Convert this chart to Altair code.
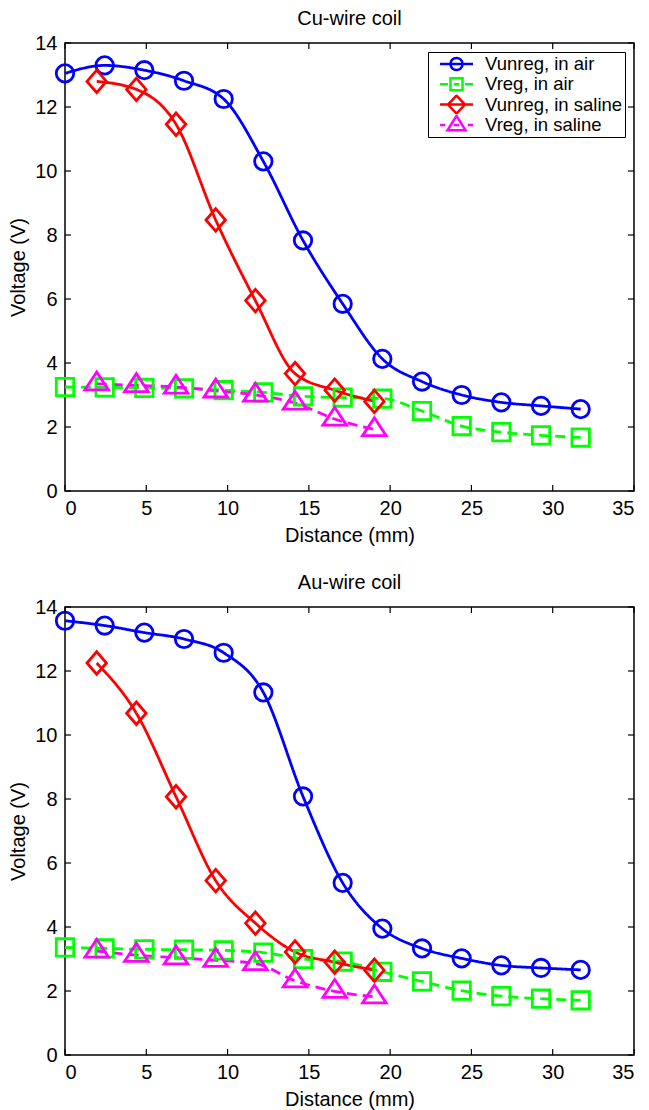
import altair as alt
import pandas as pd

# ---------------- data ----------------
series_names = ["Vunreg, in air", "Vreg, in air", "Vunreg, in saline", "Vreg, in saline"]

air_x = [0, 2.44, 4.88, 7.32, 9.76, 12.2, 14.64, 17.08, 19.52, 21.96, 24.4, 26.84, 29.28, 31.72]
saline_x = [1.95, 4.39, 6.83, 9.27, 11.71, 14.15, 16.59, 19.03]

cu_vunreg_air = [13.05, 13.3, 13.15, 12.82, 12.25, 10.3, 7.83, 5.85, 4.13, 3.42, 3.0, 2.77, 2.66, 2.56]
cu_vreg_air = [3.25, 3.24, 3.22, 3.21, 3.15, 3.08, 2.96, 2.92, 2.89, 2.5, 2.03, 1.84, 1.74, 1.67]
cu_vunreg_saline = [12.8, 12.55, 11.46, 8.47, 5.95, 3.67, 3.15, 2.8]
cu_vreg_saline = [3.35, 3.3, 3.25, 3.13, 3.0, 2.75, 2.25, 1.92]

au_vunreg_air = [13.57, 13.42, 13.2, 13.0, 12.57, 11.33, 8.08, 5.38, 3.95, 3.33, 3.02, 2.8, 2.72, 2.66]
au_vreg_air = [3.36, 3.33, 3.3, 3.29, 3.27, 3.2, 3.0, 2.92, 2.6, 2.3, 2.01, 1.84, 1.76, 1.71]
au_vunreg_saline = [12.25, 10.68, 8.07, 5.45, 4.12, 3.22, 2.9, 2.65]
au_vreg_saline = [3.25, 3.12, 3.04, 2.96, 2.86, 2.32, 1.99, 1.82]

x_ticks = [0, 5, 10, 15, 20, 25, 30, 35]
y_ticks = [0, 2, 4, 6, 8, 10, 12, 14]

# ---------------- styling ----------------
FONT = "Liberation Sans"
colors = ["#0000ff", "#00ff00", "#ff0000", "#ff00ff"]
dashes = [[1, 0], [10, 6], [1, 0], [10, 6]]
marker_paths = [
    "M0.85,0A0.85,0.85 0 1,1 -0.85,0A0.85,0.85 0 1,1 0.85,0Z",
    "M-0.85,-0.85H0.85V0.85H-0.85Z",
    "M0,-1.1L0.95,0L0,1.1L-0.95,0Z",
    "M0,-1.15L1.15,0.6H-1.15Z",
]
legend_paths = [
    "M-1.83,0H1.83M0.67,0A0.67,0.67 0 1,1 -0.67,0A0.67,0.67 0 1,1 0.67,0Z",
    "M-1.83,0H-0.95M-0.3,0H0.3M0.95,0H1.83M-0.67,-0.67H0.67V0.67H-0.67Z",
    "M-1.83,0H1.83M0,-1L0.94,0L0,1L-0.94,0Z",
    "M-1.83,0H-1.25M-0.3,0H0.3M1.25,0H1.83M0,-1L1,0.6H-1Z",
]

W, H = 569, 448


def panel(title, ys, legend_y):
    rows = []
    for name, xs, vals in zip(series_names, [air_x, air_x, saline_x, saline_x], ys):
        for xv, yv in zip(xs, vals):
            rows.append({"series": name, "x": xv, "y": yv})
    df = pd.DataFrame(rows)

    xsc = alt.Scale(domain=[0, 35], nice=False, zero=False)
    ysc = alt.Scale(domain=[0, 14], nice=False, zero=False)
    xax = alt.Axis(values=x_ticks, ticks=False, domain=False, grid=False,
                   labelPadding=7, title="Distance (mm)", titlePadding=7)
    yax = alt.Axis(values=y_ticks, ticks=False, domain=False, grid=False,
                   labelPadding=8, title="Voltage (V)", titlePadding=6)

    def X(f="x"):
        return alt.X(f + ":Q", scale=xsc, axis=xax)

    def Y(f="y"):
        return alt.Y(f + ":Q", scale=ysc, axis=yax)

    layers = []
    # lines
    for i, name in enumerate(series_names):
        sub = df[df.series == name]
        layers.append(
            alt.Chart(sub).mark_line(color=colors[i], strokeWidth=2.8,
                                     strokeDash=dashes[i], interpolate="monotone").encode(x=X(), y=Y())
        )
    # markers
    for i, name in enumerate(series_names):
        sub = df[df.series == name]
        layers.append(
            alt.Chart(sub).mark_point(shape=marker_paths[i], size=420, filled=False,
                                      color=colors[i], strokeWidth=2.8, opacity=1).encode(x=X(), y=Y())
        )
    # hidden layer carrying the legend
    legend = alt.Legend(title=None, orient="none", legendX=363, legendY=legend_y,
                        strokeColor="black", fillColor="white",
                        padding=2, symbolOffset=16, labelOffset=18,
                        symbolSize=324, symbolStrokeWidth=2.5,
                        symbolOpacity=1, rowPadding=0.3, clipHeight=20,
                        labelFontSize=18.5, labelFont=FONT,
                        labelColor="black", labelLimit=400, cornerRadius=0)
    layers.append(
        alt.Chart(df).mark_point(filled=False, opacity=0).encode(
            x=X(), y=Y(),
            color=alt.Color("series:N", scale=alt.Scale(domain=series_names, range=colors),
                            legend=legend),
            shape=alt.Shape("series:N", scale=alt.Scale(domain=series_names, range=legend_paths),
                            legend=legend),
        )
    )
    # inward ticks on all four sides
    xt = pd.DataFrame({"x": x_ticks})
    yt = pd.DataFrame({"y": y_ticks})
    tick_style = dict(color="black", strokeWidth=1.2)
    layers.append(alt.Chart(xt).mark_rule(**tick_style).encode(
        x=X(), y=alt.value(H), y2=alt.value(H - 6)))
    layers.append(alt.Chart(xt).mark_rule(**tick_style).encode(
        x=X(), y=alt.value(0), y2=alt.value(6)))
    layers.append(alt.Chart(yt).mark_rule(**tick_style).encode(
        y=Y(), x=alt.value(0), x2=alt.value(6)))
    layers.append(alt.Chart(yt).mark_rule(**tick_style).encode(
        y=Y(), x=alt.value(W), x2=alt.value(W - 6)))

    return alt.layer(*layers).properties(
        width=W, height=H,
        title=alt.TitleParams(title, fontSize=20, font=FONT, fontWeight="normal",
                              anchor="middle", color="black", offset=4),
    )


top = panel("Cu-wire coil", [cu_vunreg_air, cu_vreg_air, cu_vunreg_saline, cu_vreg_saline], 9)
bottom = panel("Au-wire coil", [au_vunreg_air, au_vreg_air, au_vunreg_saline, au_vreg_saline], 11)

chart = alt.vconcat(top, bottom, spacing=26).configure(
    padding={"left": 0, "top": 0, "right": 0, "bottom": 0},
    background="white",
).configure_view(
    stroke="black", strokeWidth=1.5
).configure_axis(
    labelFont=FONT, labelFontSize=20, labelColor="black",
    titleFont=FONT, titleFontSize=20, titleColor="black", titleFontWeight="normal",
)

chart.save("out.html", embed_options={"renderer": "svg", "actions": False})
